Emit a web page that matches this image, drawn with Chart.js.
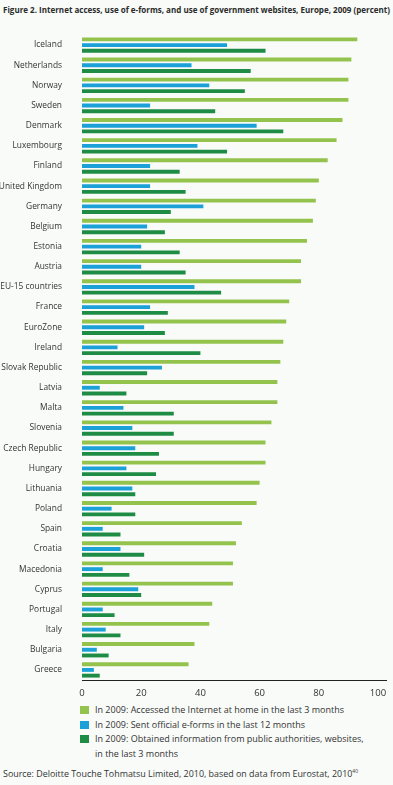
<!DOCTYPE html>
<html>
<head>
<meta charset="utf-8">
<script src="https://cdn.jsdelivr.net/npm/chart.js@4"></script>
<style>
  html, body { margin: 0; padding: 0; background: #f8fbf8; }
  body { width: 393px; height: 785px; position: relative; overflow: hidden; font-family: "Open Sans", "Noto Sans", sans-serif; color: #333; }
  #title { position: absolute; left: 3px; top: 3px; font-size: 9.5px; font-weight: bold; white-space: nowrap; transform-origin: 0 0; color: #2b2b2b; }
  #wrap { position: absolute; left: 0; top: 0; width: 393px; height: 700px; }
  #legend { position: absolute; left: 80px; top: 703px; font-size: 9px; line-height: 14.5px; }
  .item { position: relative; padding-left: 15px; white-space: nowrap; }
  .sw { position: absolute; left: 0; top: 3px; width: 9px; height: 8px; }
  #source { position: absolute; left: 3px; top: 767px; font-size: 9px; white-space: nowrap; transform-origin: 0 0; }
  sup { font-size: 5px; }
</style>
</head>
<body>
<div id="title">Figure 2. Internet access, use of e-forms, and use of government websites, Europe, 2009 (percent)</div>
<div id="wrap"><canvas id="chart"></canvas></div>
<div id="legend"></div>
<div id="source">Source: Deloitte Touche Tohmatsu Limited, 2010, based on data from Eurostat, 2010<sup>40</sup></div>
<script>
(() => {
  const countries = [
    "Iceland", "Netherlands", "Norway", "Sweden", "Denmark", "Luxembourg", "Finland",
    "United Kingdom", "Germany", "Belgium", "Estonia", "Austria", "EU-15 countries",
    "France", "EuroZone", "Ireland", "Slovak Republic", "Latvia", "Malta", "Slovenia",
    "Czech Republic", "Hungary", "Lithuania", "Poland", "Spain", "Croatia", "Macedonia",
    "Cyprus", "Portugal", "Italy", "Bulgaria", "Greece",
  ];
  const internetAtHome = [93, 91, 90, 90, 88, 86, 83, 80, 79, 78, 76, 74, 74, 70, 69, 68, 67, 66, 66, 64, 62, 62, 60, 59, 54, 52, 51, 51, 44, 43, 38, 36];
  const sentEforms = [49, 37, 43, 23, 59, 39, 23, 23, 41, 22, 20, 20, 38, 23, 21, 12, 27, 6, 14, 17, 18, 15, 17, 10, 7, 13, 7, 19, 7, 8, 5, 4];
  const obtainedInfo = [62, 57, 55, 45, 68, 49, 33, 35, 30, 28, 33, 35, 47, 29, 28, 40, 22, 15, 31, 31, 26, 25, 18, 18, 13, 21, 16, 20, 11, 13, 9, 6];
  const xTicks = [0, 20, 40, 60, 80, 100];

  const seriesNames = [
    "In 2009: Accessed the Internet at home in the last 3 months",
    "In 2009: Sent official e-forms in the last 12 months",
    ["In 2009: Obtained information from public authorities, websites,", "in the last 3 months"],
  ];
  const colors = ["#93c34c", "#1ba0d7", "#1f8c45"];

  const legend = document.getElementById("legend");
  seriesNames.forEach((name, i) => {
    const div = document.createElement("div");
    div.className = "item";
    const lines = Array.isArray(name) ? name : [name];
    div.innerHTML = `<span class="sw" style="background:${colors[i]}"></span>${lines.join("<br>")}`;
    legend.appendChild(div);
  });

  function fitWidth(id, width) {
    const el = document.getElementById(id);
    const w = el.getBoundingClientRect().width;
    el.style.transform = `scaleX(${width / w})`;
  }
  fitWidth("title", 387);
  fitWidth("source", 355);

  const font = { family: "'Open Sans', 'Noto Sans', sans-serif", size: 8.4 };

  new Chart(document.getElementById("chart"), {
    type: "bar",
    data: {
      labels: countries,
      datasets: [internetAtHome, sentEforms, obtainedInfo].map((d, i) => ({
        label: Array.isArray(seriesNames[i]) ? seriesNames[i].join(" ") : seriesNames[i],
        data: d,
        backgroundColor: colors[i],
        barPercentage: 0.68,
        categoryPercentage: 0.85,
      })),
    },
    options: {
      indexAxis: "y",
      responsive: true,
      maintainAspectRatio: false,
      animation: false,
      layout: { padding: { top: 35, right: 7, left: 0, bottom: 0 } },
      plugins: { legend: { display: false }, tooltip: { enabled: false } },
      scales: {
        x: {
          min: 0,
          max: 102.7,
          afterBuildTicks: (s) => { s.ticks = xTicks.map((v) => ({ value: v })); },
          afterFit: (s) => { s.height = 20; },
          grid: { display: false },
          border: { display: true, color: "#222", width: 1 },
          ticks: { color: "#333", font: { ...font, size: 9.5 }, padding: 0 },
        },
        y: {
          afterFit: (s) => { s.width = 82; },
          grid: { display: false },
          border: { display: false },
          ticks: { color: "#333", font, padding: 12, autoSkip: false },
        },
      },
    },
  });
})();
</script>
</body>
</html>
